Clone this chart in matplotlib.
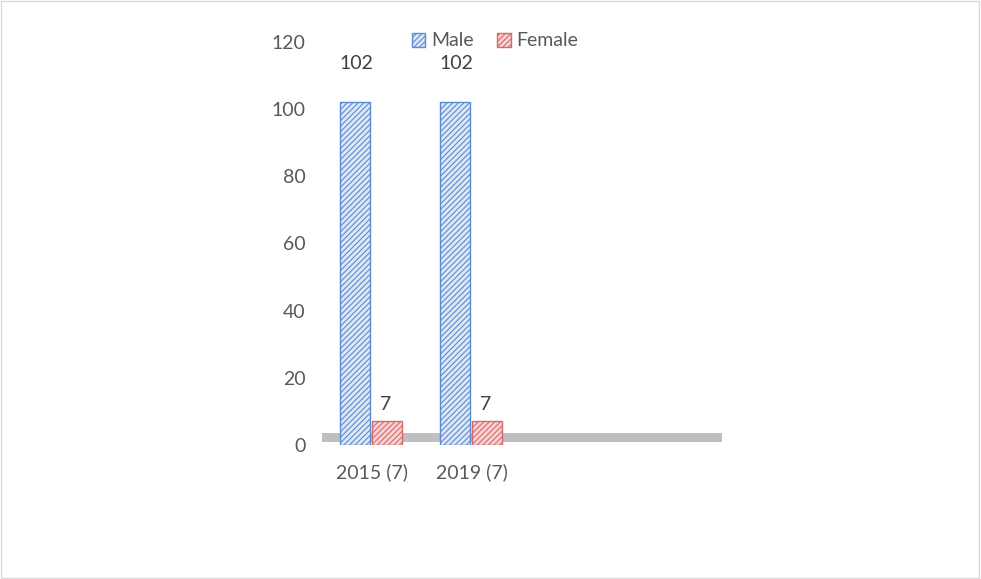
import numpy as np
import matplotlib.pyplot as plt
from matplotlib.patches import Rectangle

# data
categories = ['2015 (7)', '2019 (7)']
male = [102, 102]
female = [7, 7]
n_slots = 4  # the axis floor spans four category slots, only two are used

plt.rcParams['font.family'] = ['Lato', 'DejaVu Sans']
plt.rcParams['hatch.linewidth'] = 0.8

fig = plt.figure(figsize=(9.81, 5.79), dpi=100)
fig.patches.append(Rectangle((0.001, 0.002), 0.997, 0.996, transform=fig.transFigure,
                             fill=False, edgecolor='#d9d9d9', linewidth=1))

ax = fig.add_axes([322 / 981, (579 - 445) / 579, 400 / 981, (445 - 42) / 579])

x = np.arange(len(categories))
w = 0.3

# floor band
ax.fill_between([-0.5, n_slots - 0.5], 0.8, 3.5, color='#bfbfbf', zorder=1, linewidth=0)

ax.bar(x - 0.17, male, w, facecolor='#dde7f6', edgecolor='#5b8bd0', hatch='//////',
       linewidth=1, zorder=3, label='Male')
ax.bar(x + 0.15, female, w, facecolor='#f9d3d3', edgecolor='#d46a6a', hatch='//////',
       linewidth=1, zorder=3, label='Female')

for i in range(len(categories)):
    ax.text(x[i] - 0.16, male[i] + 9, str(male[i]), ha='center', va='bottom',
            fontsize=14, color='#404040')
    ax.text(x[i] + 0.14, female[i] + 2.5, str(female[i]), ha='center', va='bottom',
            fontsize=14, color='#404040')

ax.set_xlim(-0.5, n_slots - 0.5)
ax.set_ylim(0, 120)
ax.set_yticks(range(0, 121, 20))
ax.set_xticks(x)
ax.set_xticklabels(categories)
ax.tick_params(axis='both', length=0, labelsize=14, labelcolor='#595959')
ax.tick_params(axis='y', pad=12)
ax.tick_params(axis='x', pad=13)
for s in ax.spines.values():
    s.set_visible(False)

fig.legend(loc='center', bbox_to_anchor=(495 / 981, 1 - 41 / 579), ncol=2, frameon=False,
           fontsize=14, handlelength=0.7, handleheight=0.7, handletextpad=0.3,
           columnspacing=1.2, labelcolor='#595959')

fig.savefig('out.png', dpi=100)
